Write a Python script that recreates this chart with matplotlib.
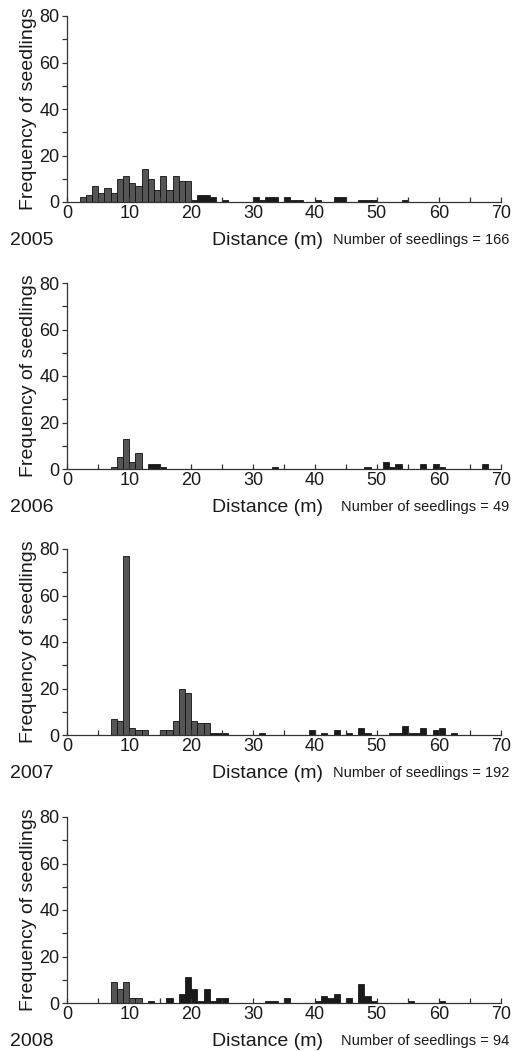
import matplotlib
matplotlib.use("Agg")
import matplotlib.pyplot as plt
from matplotlib.ticker import MultipleLocator

plt.rcParams['font.family'] = ['Liberation Sans', 'DejaVu Sans']

years = ['2005', '2006', '2007', '2008']
totals = [166, 49, 192, 94]

# grey bars (1 m bins, left edge in m) and black bars
dist_2005_a = [2, 3, 4, 5, 6, 7, 8, 9, 10, 11, 12, 13, 14, 15, 16, 17, 18, 19]
freq_2005_a = [2, 3, 7, 4, 6, 4, 10, 11, 8, 7, 14, 10, 5, 11, 5, 11, 9, 9]
dist_2005_b = [20, 21, 22, 23, 25, 30, 31, 32, 33, 35, 36, 37, 40, 43, 44, 47, 48, 49, 54]
freq_2005_b = [1, 3, 3, 2, 1, 2, 1, 2, 2, 2, 1, 1, 1, 2, 2, 1, 1, 1, 1]

dist_2006_a = [7, 8, 9, 10, 11]
freq_2006_a = [1, 5, 13, 3, 7]
dist_2006_b = [13, 14, 15, 33, 48, 51, 52, 53, 57, 59, 60, 67]
freq_2006_b = [2, 2, 1, 1, 1, 3, 1, 2, 2, 2, 1, 2]

dist_2007_a = [7, 8, 9, 10, 11, 12, 15, 16, 17, 18, 19, 20, 21, 22]
freq_2007_a = [7, 6, 77, 3, 2, 2, 2, 2, 6, 20, 18, 6, 5, 5]
dist_2007_b = [23, 24, 25, 31, 39, 41, 43, 45, 47, 48, 52, 53, 54, 55, 56, 57, 59, 60, 62]
freq_2007_b = [1, 1, 1, 1, 2, 1, 2, 1, 3, 1, 1, 1, 4, 1, 1, 3, 2, 3, 1]

dist_2008_a = [7, 8, 9, 10, 11]
freq_2008_a = [9, 6, 9, 2, 2]
dist_2008_b = [13, 16, 18, 19, 20, 21, 22, 23, 24, 25, 32, 33, 35, 40, 41, 42, 43, 45, 47, 48, 49, 55, 60]
freq_2008_b = [1, 2, 4, 11, 6, 1, 6, 1, 2, 2, 1, 1, 2, 1, 3, 2, 4, 2, 8, 3, 1, 1, 1]

grey = [(dist_2005_a, freq_2005_a), (dist_2006_a, freq_2006_a),
        (dist_2007_a, freq_2007_a), (dist_2008_a, freq_2008_a)]
black = [(dist_2005_b, freq_2005_b), (dist_2006_b, freq_2006_b),
         (dist_2007_b, freq_2007_b), (dist_2008_b, freq_2008_b)]

W, H = 523, 1051
fig = plt.figure(figsize=(W / 100, H / 100), dpi=100)
fig.patch.set_facecolor('white')

baselines = [202, 469, 735, 1003]
left_px, right_px = 67.3, 500.7
axh_px = 186
txt = '#1a1a1a'

for i, yr in enumerate(years):
    base = baselines[i]
    ax = fig.add_axes([left_px / W, 1 - base / H, (right_px - left_px) / W, axh_px / H])
    gx, gy = grey[i]
    bx, by = black[i]
    ax.bar(gx, gy, width=1, align='edge', color='#555555', edgecolor='#111111', linewidth=0.6)
    ax.bar(bx, by, width=1, align='edge', color='#1a1a1a', edgecolor='#1a1a1a', linewidth=0.6)

    ax.set_xlim(0, 70)
    ax.set_ylim(0, 80)
    ax.spines['top'].set_visible(False)
    ax.spines['right'].set_visible(False)
    for s in ('left', 'bottom'):
        ax.spines[s].set_color('#333333')
        ax.spines[s].set_linewidth(0.9)
    ax.xaxis.set_major_locator(MultipleLocator(10))
    ax.xaxis.set_minor_locator(MultipleLocator(5))
    ax.yaxis.set_major_locator(MultipleLocator(20))
    ax.yaxis.set_minor_locator(MultipleLocator(10))
    ax.tick_params(axis='x', which='both', direction='in', length=3.5, width=0.9,
                   color='#333333', labelsize=13, labelcolor=txt, pad=2)
    ax.tick_params(axis='y', which='both', direction='out', length=3.5, width=0.9,
                   color='#333333', labelsize=13, labelcolor=txt, pad=2)
    ax.set_ylabel('Frequency of seedlings', fontsize=14, color=txt, labelpad=2)

    row = 1 - (base + 38) / H
    fig.text(10 / W, row, yr, fontsize=14, color=txt, ha='left', va='center')
    fig.text(268 / W, row, 'Distance (m)', fontsize=14, color=txt, ha='center', va='center')
    fig.text(509 / W, row, f'Number of seedlings = {totals[i]}', fontsize=10.5,
             color=txt, ha='right', va='center')

fig.savefig('out.png', dpi=100)
